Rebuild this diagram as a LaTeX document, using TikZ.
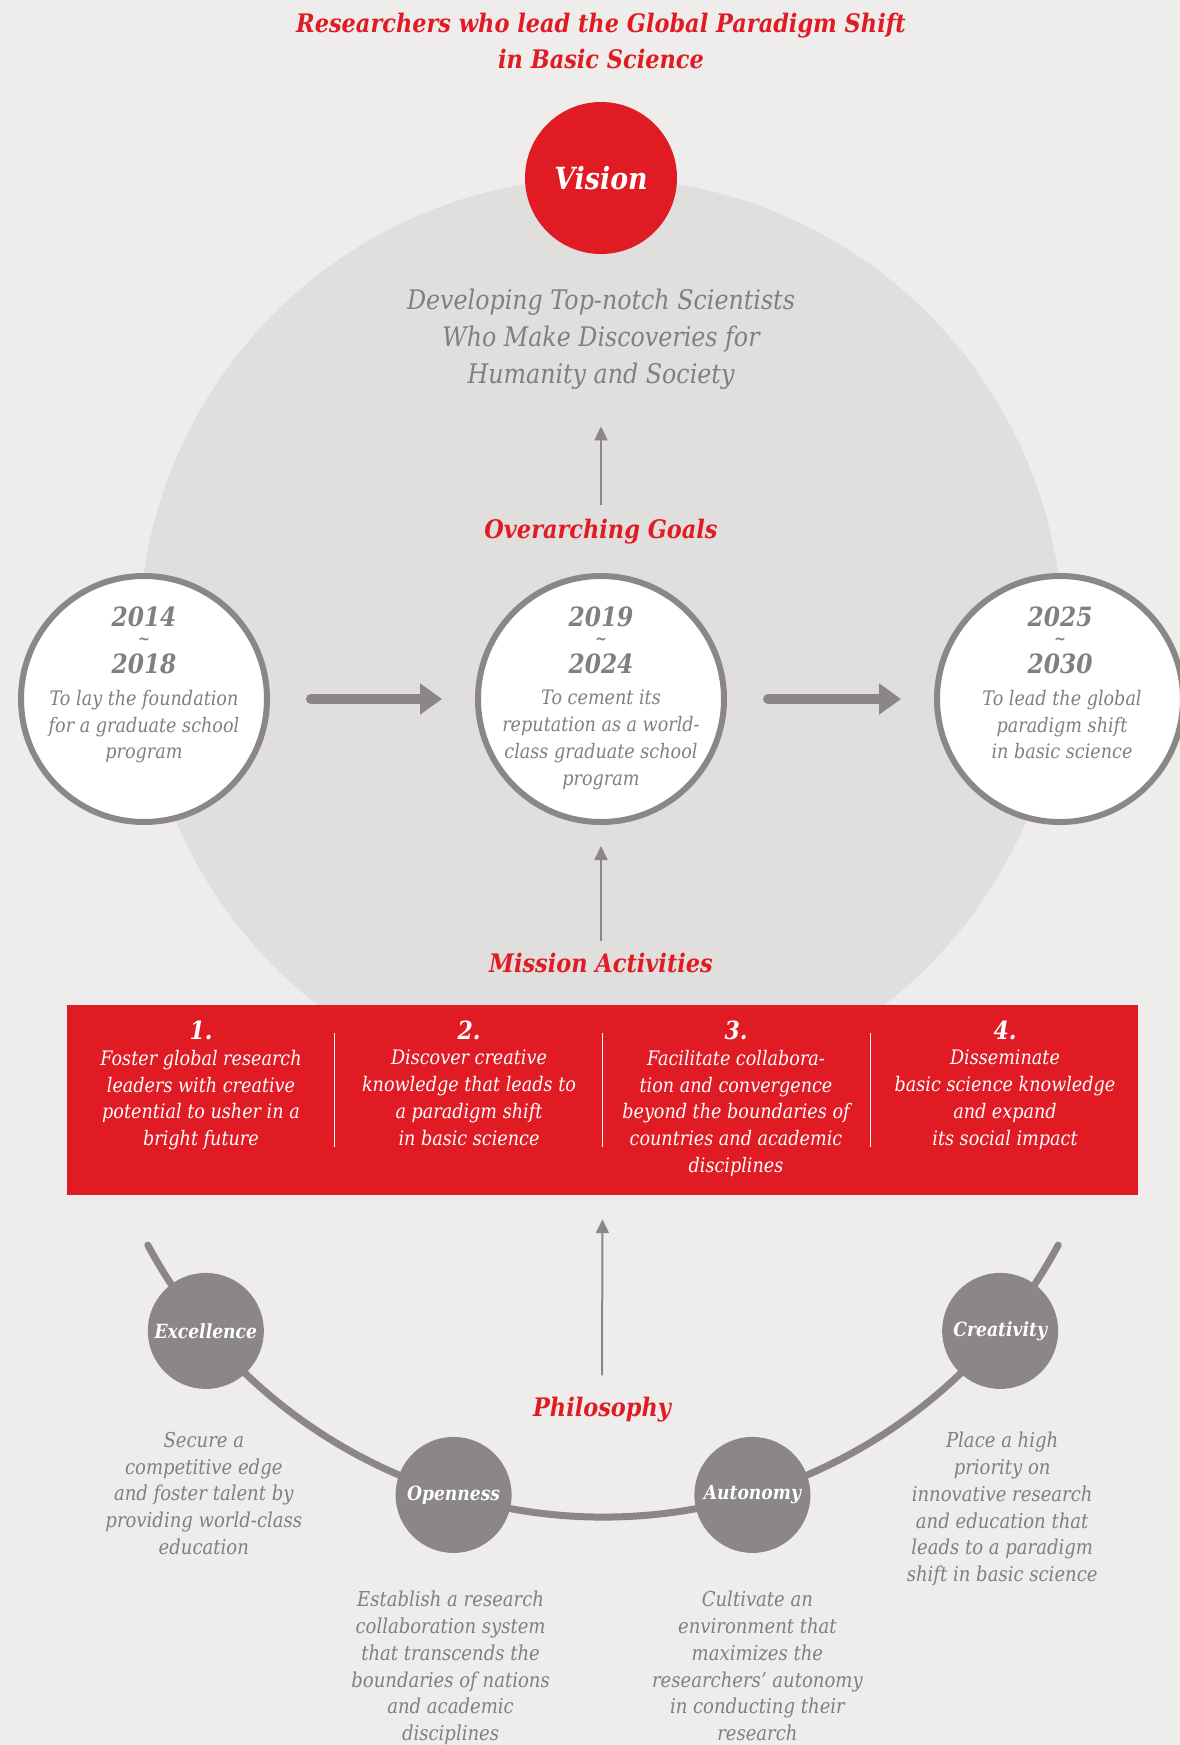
\documentclass[tikz,border=0pt]{standalone}
\usepackage{fontspec}
\setmainfont{DejaVu Serif}[FakeStretch=0.88]
\usetikzlibrary{positioning,arrows.meta}

\definecolor{ibsred}{RGB}{224,27,36}
\definecolor{paper}{RGB}{238,237,235}
\definecolor{disc}{RGB}{224,223,221}
\definecolor{ring}{RGB}{138,135,134}
\definecolor{inktxt}{RGB}{130,127,126}

\begin{document}
\begin{tikzpicture}[x=1pt,y=1pt,
    heading/.style ={font=\fontsize{25.5}{36}\selectfont\bfseries\itshape, text=ibsred, align=center, inner sep=0pt},
    period/.style  ={circle, draw=ring, line width=6pt, fill=white, minimum size=246pt, inner sep=0pt},
    yearnum/.style ={font=\fontsize{26.5}{30}\selectfont\bfseries\itshape, text=inktxt, inner sep=0pt},
    yeartilde/.style={font=\fontsize{16}{16}\selectfont\bfseries, text=inktxt, inner sep=0pt},
    goaltxt/.style ={font=\fontsize{20}{26.7}\selectfont\itshape, text=inktxt, align=center, inner sep=0pt, anchor=north},
    missionnum/.style={font=\fontsize{25}{28}\selectfont\bfseries\itshape, text=white, inner sep=0pt},
    missiontxt/.style={font=\fontsize{20}{26.7}\selectfont\itshape, text=white, align=center, inner sep=0pt, anchor=north},
    valuenode/.style={circle, fill=ring, minimum size=116pt, inner sep=0pt, text=white, font=\fontsize{19.5}{24}\selectfont\bfseries\itshape},
    valuetxt/.style={font=\fontsize{20.5}{26.7}\selectfont\itshape, text=inktxt, align=center, inner sep=0pt},
    uparrow/.style ={ring, line width=2pt, -{Triangle[length=14pt,width=13pt]}},
    steparrow/.style={ring, line width=10pt, line cap=round, -{Triangle[length=22pt,width=30pt]}}]

   \fill[paper] (0,0) rectangle (1180,-1745);
   \useasboundingbox (0,0) rectangle (1180,-1745);
   \fill[disc] (601,-640) circle[radius=462];

   % vision
   \node[heading] (title) at (601,-41) {Researchers who lead the Global Paradigm Shift\\in Basic Science};
   \node[circle, fill=ibsred, minimum size=152pt, inner sep=0pt, text=white,
         font=\fontsize{30.5}{34}\selectfont\bfseries\itshape] (vision) at (601,-178) {Vision};
   \node[font=\fontsize{27}{37}\selectfont\itshape, text=inktxt, align=center, inner sep=0pt]
         (statement) at (601,-339) {Developing Top-notch Scientists\\Who Make Discoveries for\\Humanity and Society};

   % goals
   \node[heading] (goals) at (601,-532) {Overarching Goals};
   \draw[uparrow, shorten <=14pt, shorten >=37pt] (goals.north) -- (statement.south);

   \node[period] (p1) at (144,-699) {};
   \node[period] (p2) at (601,-699) {};
   \node[period] (p3) at (1060,-699) {};

   \node[yearnum] (p1a) at (144,-617) {2014};
   \node[yeartilde] at (144,-641) {\textasciitilde};
   \node[yearnum] (p1b) at (144,-664) {2018};
   \node[goaltxt] (p1t) at (144,-690) {To lay the foundation\\for a graduate school\\program};

   \node[yearnum] (p2a) at (601,-617) {2019};
   \node[yeartilde] at (601,-641) {\textasciitilde};
   \node[yearnum] (p2b) at (601,-664) {2024};
   \node[goaltxt] (p2t) at (601,-690) {To cement its\\reputation as a world-\\class graduate school\\program};

   \node[yearnum] (p3a) at (1060,-617) {2025};
   \node[yeartilde] at (1060,-641) {\textasciitilde};
   \node[yearnum] (p3b) at (1060,-664) {2030};
   \node[goaltxt] (p3t) at (1062,-690) {To lead the global\\paradigm shift\\in basic science};

   \draw[steparrow, shorten <=41pt, shorten >=33pt] (p1) -- (p2);
   \draw[steparrow, shorten <=41pt, shorten >=33pt] (p2) -- (p3);

   % mission
   \node[heading] (missionhd) at (601,-963) {Mission Activities};
   \draw[uparrow, shorten <=12pt, shorten >=21pt] (missionhd.north) -- (p2.south);

   \node[fill=ibsred, minimum width=1071pt, minimum height=190pt, inner sep=0pt] (mission) at (602.5,-1100) {};
   \draw[white, line width=0.8pt] (334,-1033) -- (334,-1147);
   \draw[white, line width=0.8pt] (602,-1033) -- (602,-1147);
   \draw[white, line width=0.8pt] (870,-1033) -- (870,-1147);

   \node[missionnum] (m1n) at (201,-1030) {1.};
   \node[missiontxt] (m1) at (201,-1050) {Foster global research\\leaders with creative\\potential to usher in a\\bright future};
   \node[missionnum] (m2n) at (469,-1030) {2.};
   \node[missiontxt] (m2) at (469,-1050) {Discover creative\\knowledge that leads to\\a paradigm shift\\in basic science};
   \node[missionnum] (m3n) at (736,-1030) {3.};
   \node[missiontxt] (m3) at (736,-1050) {Facilitate collabora-\\tion and convergence\\beyond the boundaries of\\countries and academic\\disciplines};
   \node[missionnum] (m4n) at (1005,-1030) {4.};
   \node[missiontxt] (m4) at (1005,-1050) {Disseminate\\basic science knowledge\\and expand\\its social impact};

   % philosophy
   \node[heading] (philo) at (602,-1410) {Philosophy};
   \draw[uparrow, shorten <=22pt, shorten >=24pt] (philo.north) -- (mission.south);

   \coordinate (hub) at (603,-1000);
   \draw[ring, line width=7pt, line cap=round] (hub) ++(208.3:517) arc[start angle=208.3, end angle=331.7, radius=517];

   \node[valuenode] (exc) at ([shift={(219.8:517)}]hub) {Excellence};
   \node[valuenode] (ope) at ([shift={(253.2:517)}]hub) {Openness};
   \node[valuenode] (aut) at ([shift={(286.8:517)}]hub) {Autonomy};
   \node[valuenode] (cre) at ([shift={(320.2:517)}]hub) {Creativity};

   \node[valuetxt, below=43pt of exc, xshift=-2pt] (exct) {Secure a\\competitive edge\\and foster talent by\\providing world-class\\education};
   \node[valuetxt, below=38pt of ope, xshift=-3pt] (opet) {Establish a research\\collaboration system\\that transcends the\\boundaries of nations\\and academic\\disciplines};
   \node[valuetxt, below=38pt of aut, xshift=5pt] (autt) {Cultivate an\\environment that\\maximizes the\\researchers’ autonomy\\in conducting their\\research};
   \node[valuetxt, below=43pt of cre, xshift=2pt] (cret) {Place a high\\priority on\\innovative research\\and education that\\leads to a paradigm\\shift in basic science};

 \end{tikzpicture}
\end{document}
